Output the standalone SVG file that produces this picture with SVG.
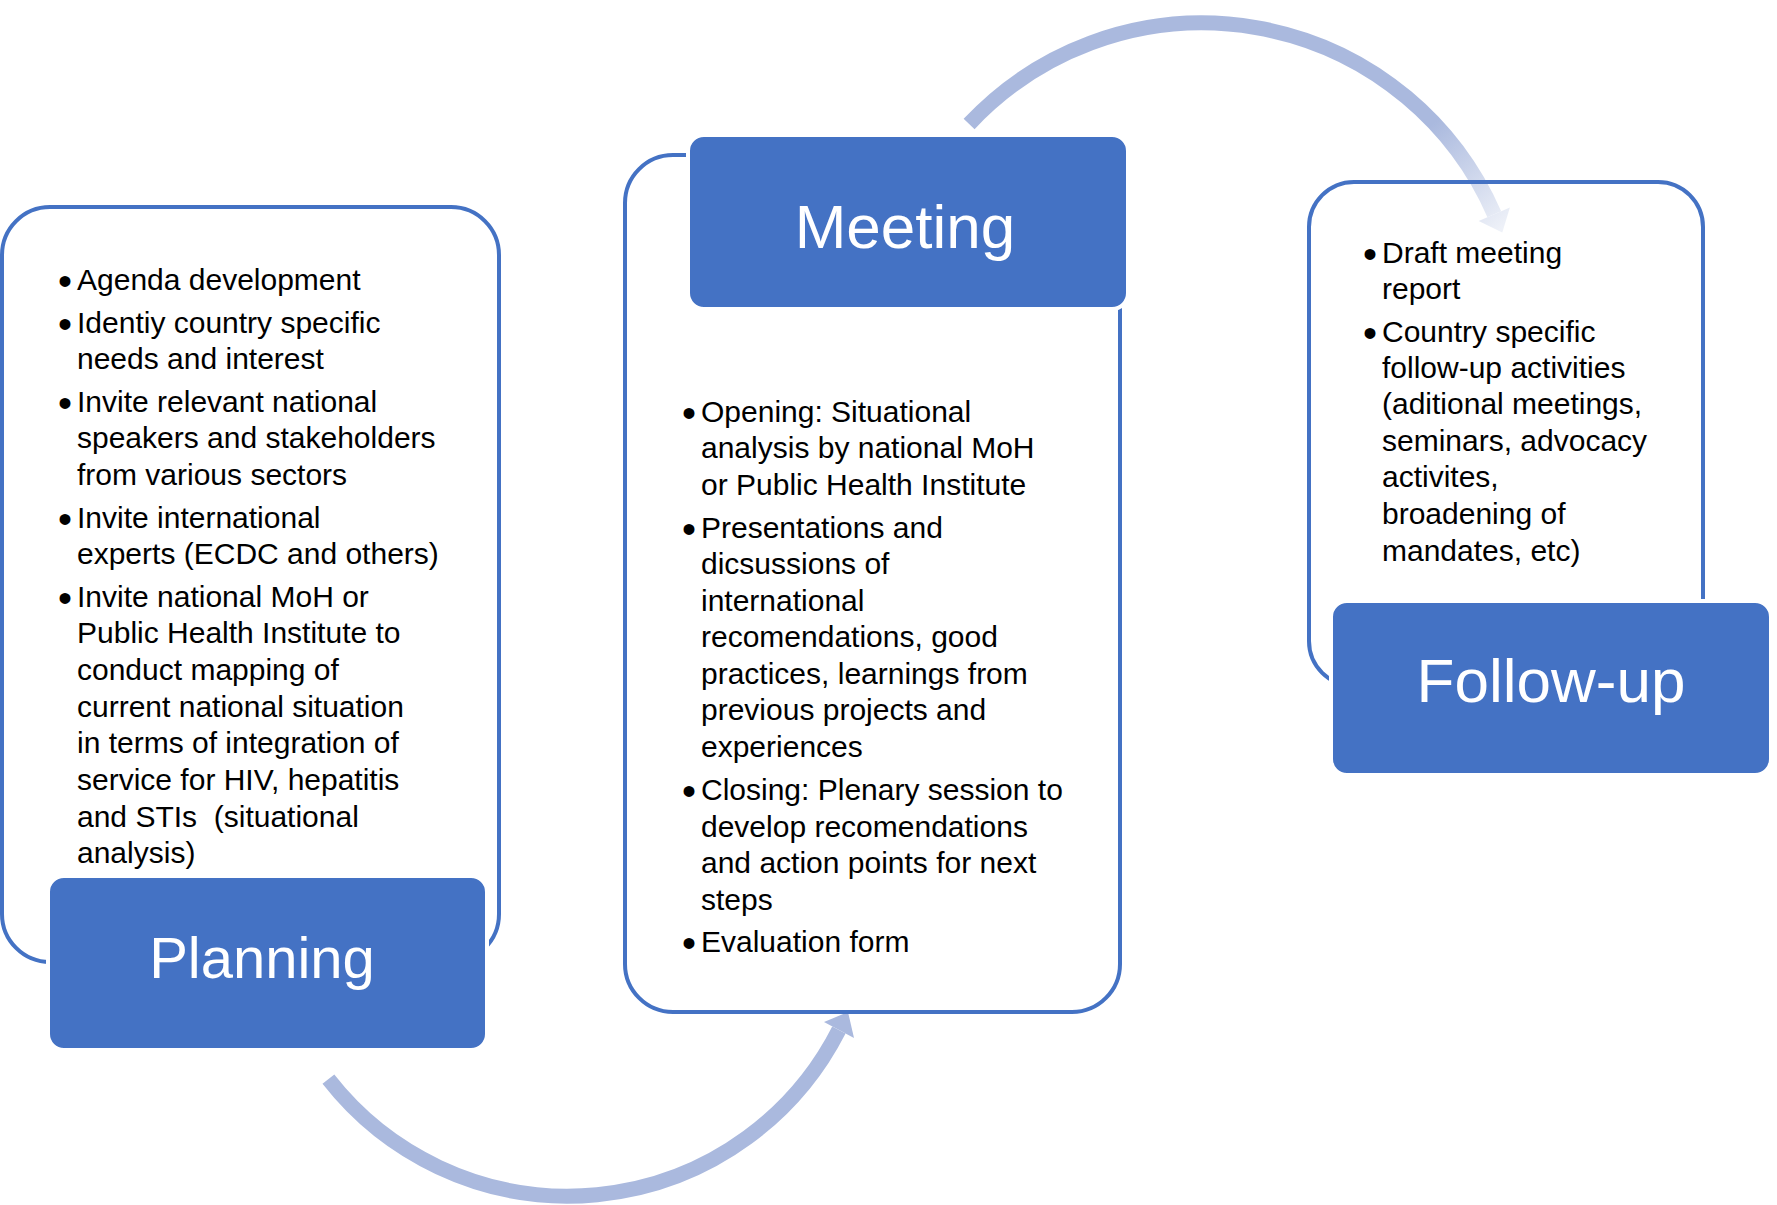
<svg xmlns="http://www.w3.org/2000/svg" width="1777" height="1205" viewBox="0 0 1777 1205">
  <style>
    .outline { fill: none; stroke: #4472C4; stroke-width: 4; }
    .head { fill: #4472C4; stroke: #FFFFFF; stroke-width: 4; }
    .title { font-family: "Liberation Sans", Arial, sans-serif; fill: #FFFFFF; text-anchor: middle; }
    .body { font-family: "Liberation Sans", Arial, sans-serif; font-size: 30px; fill: #000000; }
    .bullet { font-family: "Liberation Sans", Arial, sans-serif; font-size: 40px; fill: #000000; text-anchor: middle; }
    .arc { fill: none; stroke-width: 15; stroke-linecap: butt; }
  </style>
  <defs>
    <linearGradient id="fade" gradientUnits="userSpaceOnUse" x1="1425" y1="130" x2="1502" y2="228">
      <stop offset="0" stop-color="#AAB9DE"/>
      <stop offset="1" stop-color="#EEF1F8"/>
    </linearGradient>
  </defs>
  <rect width="1777" height="1205" fill="#FFFFFF"/>

  <g id="connectors">
    <g id="arrow-planning-meeting">
      <path class="arc" stroke="#AAB9DE" d="M 328.4 1079.2 A 304 304 0 0 0 838.9 1030"/>
      <polygon fill="#AAB9DE" points="854,1038 824,1022 848,1012"/>
    </g>
    <g id="arrow-meeting-followup">
      <path class="arc" stroke="url(#fade)" d="M 969.1 124 A 319 319 0 0 1 1494.3 214.3"/>
      <polygon fill="url(#fade)" points="1509.9,207.5 1478.7,221.1 1502.3,232.6"/>
    </g>
  </g>

  <g id="node-planning">
    <rect class="outline" x="2" y="207" width="497" height="755" rx="48" ry="48"/>
    <rect class="head" x="48" y="876" width="439" height="174" rx="16" ry="16"/>
    <text class="title" x="262" y="978" font-size="58">Planning</text>
    <g class="bullets">
      <text class="bullet" x="65" y="295">•</text>
      <text class="bullet" x="65" y="338">•</text>
      <text class="bullet" x="65" y="417">•</text>
      <text class="bullet" x="65" y="533">•</text>
      <text class="bullet" x="65" y="612">•</text>
    </g>
    <text class="body">
      <tspan x="77" y="290">Agenda development</tspan>
      <tspan x="77" y="333">Identiy country specific</tspan>
      <tspan x="77" y="369">needs and interest</tspan>
      <tspan x="77" y="412">Invite relevant national</tspan>
      <tspan x="77" y="448">speakers and stakeholders</tspan>
      <tspan x="77" y="485">from various sectors</tspan>
      <tspan x="77" y="528">Invite international</tspan>
      <tspan x="77" y="564">experts (ECDC and others)</tspan>
      <tspan x="77" y="607">Invite national MoH or</tspan>
      <tspan x="77" y="643">Public Health Institute to</tspan>
      <tspan x="77" y="680">conduct mapping of</tspan>
      <tspan x="77" y="717">current national situation</tspan>
      <tspan x="77" y="753">in terms of integration of</tspan>
      <tspan x="77" y="790">service for HIV, hepatitis</tspan>
      <tspan x="77" y="827">and STIs&#160; (situational</tspan>
      <tspan x="77" y="863">analysis)</tspan>
    </text>
  </g>

  <g id="node-meeting">
    <rect class="outline" x="625" y="155" width="495" height="857" rx="48" ry="48"/>
    <rect class="head" x="688" y="135" width="440" height="174" rx="16" ry="16"/>
    <text class="title" x="905" y="248" font-size="62">Meeting</text>
    <g class="bullets">
      <text class="bullet" x="689" y="427">•</text>
      <text class="bullet" x="689" y="543">•</text>
      <text class="bullet" x="689" y="805">•</text>
      <text class="bullet" x="689" y="957">•</text>
    </g>
    <text class="body">
      <tspan x="701" y="422">Opening: Situational</tspan>
      <tspan x="701" y="458">analysis by national MoH</tspan>
      <tspan x="701" y="495">or Public Health Institute</tspan>
      <tspan x="701" y="538">Presentations and</tspan>
      <tspan x="701" y="574">dicsussions of</tspan>
      <tspan x="701" y="611">international</tspan>
      <tspan x="701" y="647">recomendations, good</tspan>
      <tspan x="701" y="684">practices, learnings from</tspan>
      <tspan x="701" y="720">previous projects and</tspan>
      <tspan x="701" y="757">experiences</tspan>
      <tspan x="701" y="800">Closing: Plenary session to</tspan>
      <tspan x="701" y="837">develop recomendations</tspan>
      <tspan x="701" y="873">and action points for next</tspan>
      <tspan x="701" y="910">steps</tspan>
      <tspan x="701" y="952">Evaluation form</tspan>
    </text>
  </g>

  <g id="node-followup">
    <rect class="outline" x="1309" y="182" width="394" height="504" rx="45" ry="45"/>
    <rect class="head" x="1331" y="601" width="440" height="174" rx="16" ry="16"/>
    <text class="title" x="1551" y="702" font-size="62">Follow-up</text>
    <g class="bullets">
      <text class="bullet" x="1370" y="268">•</text>
      <text class="bullet" x="1370" y="347">•</text>
    </g>
    <text class="body">
      <tspan x="1382" y="263">Draft meeting</tspan>
      <tspan x="1382" y="299">report</tspan>
      <tspan x="1382" y="342">Country specific</tspan>
      <tspan x="1382" y="378">follow-up activities</tspan>
      <tspan x="1382" y="414">(aditional meetings,</tspan>
      <tspan x="1382" y="451">seminars, advocacy</tspan>
      <tspan x="1382" y="487">activites,</tspan>
      <tspan x="1382" y="524">broadening of</tspan>
      <tspan x="1382" y="561">mandates, etc)</tspan>
    </text>
  </g>
</svg>
